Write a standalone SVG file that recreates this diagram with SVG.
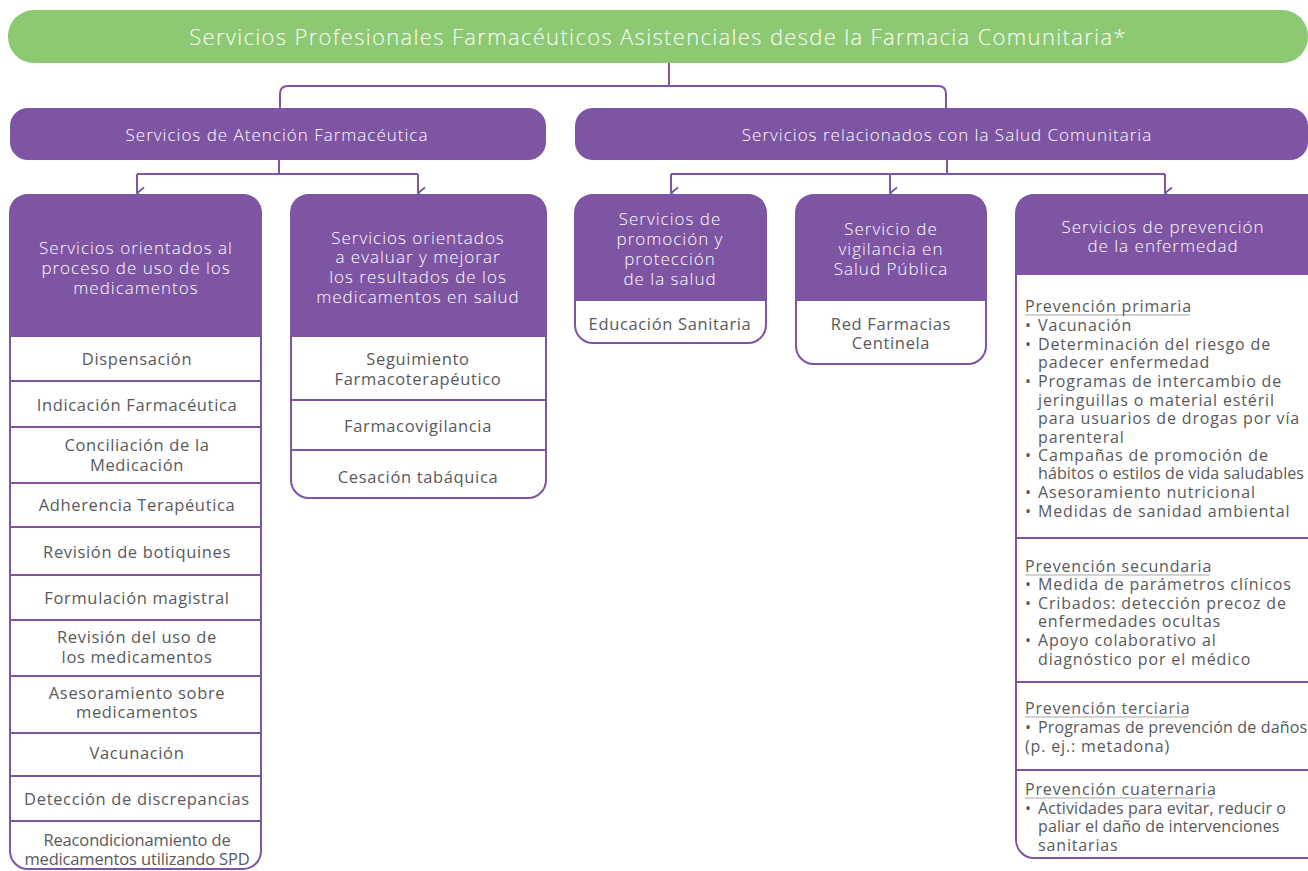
<svg xmlns="http://www.w3.org/2000/svg" width="1308" height="871" viewBox="0 0 1308 871">
<defs>
<style>
.t{font-family:"Open Sans","Noto Sans","Liberation Sans",sans-serif;}
.w{fill:#ffffff;font-size:17px;letter-spacing:1px;text-anchor:middle;font-weight:300;}
.g{fill:#58595b;font-size:16.5px;letter-spacing:0.65px;text-anchor:middle;}
.l{fill:#58595b;font-size:16px;letter-spacing:0.85px;}
.c{letter-spacing:-0.15px;}
.n{letter-spacing:0.1px;}
.hd{fill:#7d55a3;}
.bx{fill:#ffffff;stroke:#7d55a3;stroke-width:2;}
.sep{stroke:#7d55a3;stroke-width:2;}
.cn{fill:none;stroke:#7d55a3;stroke-width:2;}
.ul{fill:none;stroke:#a7a7a9;stroke-width:1;}
</style>
<marker id="ah" markerUnits="userSpaceOnUse" markerWidth="14" markerHeight="10" refX="6" refY="8" orient="auto-start-reverse" viewBox="0 0 12 10">
<path d="M0.5,1 L6,8 L11.5,1" fill="none" stroke="#7d55a3" stroke-width="1.8"/>
</marker>
</defs>
<rect width="1308" height="871" fill="#ffffff"/>

<g id="connectors">
<path class="cn" d="M669,63 V86"/>
<path class="cn" d="M280,108 V94 Q280,86 288,86 H938 Q946,86 946,94 V108"/>
<path class="cn" d="M279,160 V174"/>
<path class="cn" d="M137,174 H418"/>
<path class="cn" d="M137,174 V193" marker-end="url(#ah)"/>
<path class="cn" d="M418,174 V193" marker-end="url(#ah)"/>
<path class="cn" d="M947,160 V174"/>
<path class="cn" d="M671,174 H1165"/>
<path class="cn" d="M671,174 V193" marker-end="url(#ah)"/>
<path class="cn" d="M890,174 V193" marker-end="url(#ah)"/>
<path class="cn" d="M1165,174 V193" marker-end="url(#ah)"/>
</g>

<g id="root">
<rect x="8" y="10" width="1300" height="53" rx="26" fill="#8cc972"/>
<text class="t" x="658" y="45" fill="#ffffff" font-size="22" font-weight="300" letter-spacing="1.33" text-anchor="middle">Servicios Profesionales Farmacéuticos Asistenciales desde la Farmacia Comunitaria*</text>
</g>

<g id="atencion">
<rect x="10" y="108" width="536" height="52" rx="18" class="hd"/>
<text class="t w" x="277" y="141" letter-spacing="1.15">Servicios de Atención Farmacéutica</text>
</g>

<g id="salud-comunitaria">
<rect x="575" y="108" width="733" height="52" rx="18" class="hd"/>
<text class="t w" x="947" y="141">Servicios relacionados con la Salud Comunitaria</text>
</g>

<g id="uso-medicamentos">
<rect x="10" y="195" width="251" height="674" rx="18" class="bx"/>
<path class="hd" d="M10,337 V213 Q10,195 28,195 H243 Q261,195 261,213 V337 Z"/>
<text class="t w"><tspan x="136" y="254">Servicios orientados al</tspan><tspan x="136" y="274">proceso de uso de los</tspan><tspan x="136" y="294">medicamentos</tspan></text>
<path class="sep" d="M10,381 H261 M10,427 H261 M10,483 H261 M10,527 H261 M10,575 H261 M10,620 H261 M10,676 H261 M10,733 H261 M10,776 H261 M10,821 H261"/>
<text class="t g" x="137" y="365">Dispensación</text>
<text class="t g" x="137" y="411">Indicación Farmacéutica</text>
<text class="t g"><tspan x="137" y="451">Conciliación de la</tspan><tspan x="137" y="471">Medicación</tspan></text>
<text class="t g" x="137" y="511">Adherencia Terapéutica</text>
<text class="t g" x="137" y="558">Revisión de botiquines</text>
<text class="t g" x="137" y="604">Formulación magistral</text>
<text class="t g"><tspan x="137" y="643">Revisión del uso de</tspan><tspan x="137" y="663">los medicamentos</tspan></text>
<text class="t g"><tspan x="137" y="699">Asesoramiento sobre</tspan><tspan x="137" y="718">medicamentos</tspan></text>
<text class="t g" x="137" y="759">Vacunación</text>
<text class="t g" x="137" y="805">Detección de discrepancias</text>
<text class="t g c"><tspan x="137" y="846">Reacondicionamiento de</tspan><tspan x="137" y="865">medicamentos utilizando SPD</tspan></text>
</g>

<g id="resultados">
<rect x="291" y="195" width="255" height="303" rx="18" class="bx"/>
<path class="hd" d="M291,337 V213 Q291,195 309,195 H528 Q546,195 546,213 V337 Z"/>
<text class="t w"><tspan x="418" y="244">Servicios orientados</tspan><tspan x="418" y="263">a evaluar y mejorar</tspan><tspan x="418" y="283">los resultados de los</tspan><tspan x="418" y="303">medicamentos en salud</tspan></text>
<path class="sep" d="M291,400 H546 M291,450 H546"/>
<text class="t g"><tspan x="418" y="365">Seguimiento</tspan><tspan x="418" y="385">Farmacoterapéutico</tspan></text>
<text class="t g" x="418" y="432">Farmacovigilancia</text>
<text class="t g" x="418" y="483">Cesación tabáquica</text>
</g>

<g id="promocion">
<rect x="575" y="195" width="191" height="148" rx="18" class="bx"/>
<path class="hd" d="M575,301 V213 Q575,195 593,195 H748 Q766,195 766,213 V301 Z"/>
<text class="t w"><tspan x="670" y="225">Servicios de</tspan><tspan x="670" y="245">promoción y</tspan><tspan x="670" y="265">protección</tspan><tspan x="670" y="285">de la salud</tspan></text>
<text class="t g" x="670" y="330">Educación Sanitaria</text>
</g>

<g id="vigilancia">
<rect x="796" y="195" width="190" height="169" rx="18" class="bx"/>
<path class="hd" d="M796,301 V213 Q796,195 814,195 H968 Q986,195 986,213 V301 Z"/>
<text class="t w"><tspan x="891" y="235">Servicio de</tspan><tspan x="891" y="255">vigilancia en</tspan><tspan x="891" y="275">Salud Pública</tspan></text>
<text class="t g"><tspan x="891" y="330">Red Farmacias</tspan><tspan x="891" y="349">Centinela</tspan></text>
</g>

<g id="prevencion">
<rect x="1016" y="195" width="310" height="663" rx="18" class="bx"/>
<path class="hd" d="M1016,275 V213 Q1016,195 1034,195 H1326 V275 Z"/>
<text class="t w"><tspan x="1163" y="233">Servicios de prevención</tspan><tspan x="1163" y="252">de la enfermedad</tspan></text>
<path class="sep" d="M1016,538 H1310 M1016,682 H1310 M1016,770 H1310"/>
<path class="ul" d="M1025,315 H1190 M1025,575 H1210 M1025,717 H1188 M1025,798 H1214"/>
<text class="t l">
<tspan x="1025" y="312">Prevención primaria</tspan>
<tspan x="1025" y="331">•</tspan><tspan x="1038" y="331">Vacunación</tspan>
<tspan x="1025" y="350">•</tspan><tspan x="1038" y="350">Determinación del riesgo de</tspan>
<tspan x="1038" y="368">padecer enfermedad</tspan>
<tspan x="1025" y="387">•</tspan><tspan x="1038" y="387">Programas de intercambio de</tspan>
<tspan x="1038" y="406">jeringuillas o material estéril</tspan>
<tspan x="1038" y="424">para usuarios de drogas por vía</tspan>
<tspan x="1038" y="443">parenteral</tspan>
<tspan x="1025" y="461">•</tspan><tspan x="1038" y="461">Campañas de promoción de</tspan>
<tspan x="1038" y="479" class="n">hábitos o estilos de vida saludables</tspan>
<tspan x="1025" y="498">•</tspan><tspan x="1038" y="498">Asesoramiento nutricional</tspan>
<tspan x="1025" y="517">•</tspan><tspan x="1038" y="517">Medidas de sanidad ambiental</tspan>
</text>
<text class="t l">
<tspan x="1025" y="572">Prevención secundaria</tspan>
<tspan x="1025" y="590">•</tspan><tspan x="1038" y="590">Medida de parámetros clínicos</tspan>
<tspan x="1025" y="609">•</tspan><tspan x="1038" y="609">Cribados: detección precoz de</tspan>
<tspan x="1038" y="627">enfermedades ocultas</tspan>
<tspan x="1025" y="646">•</tspan><tspan x="1038" y="646">Apoyo colaborativo al</tspan>
<tspan x="1038" y="665">diagnóstico por el médico</tspan>
</text>
<text class="t l">
<tspan x="1025" y="714">Prevención terciaria</tspan>
<tspan x="1025" y="733">•</tspan><tspan x="1038" y="733" style="letter-spacing:0.15px">Programas de prevención de daños</tspan>
<tspan x="1025" y="752">(p. ej.: metadona)</tspan>
</text>
<text class="t l">
<tspan x="1025" y="795">Prevención cuaternaria</tspan>
<tspan x="1025" y="814">•</tspan><tspan x="1038" y="814" class="n">Actividades para evitar, reducir o</tspan>
<tspan x="1038" y="832" class="n">paliar el daño de intervenciones</tspan>
<tspan x="1038" y="851">sanitarias</tspan>
</text>
</g>
</svg>
